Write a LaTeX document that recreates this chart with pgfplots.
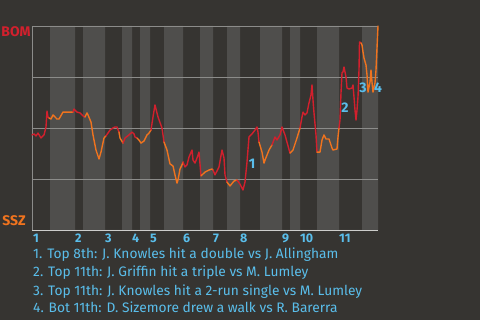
\documentclass[border=0pt]{standalone}
\usepackage{pgfplots}
\pgfplotsset{compat=1.18}
\usepackage{fontspec}
\setmainfont{Fira Sans}
\definecolor{bg}{RGB}{54,52,49}
\definecolor{band}{RGB}{79,78,76}
\definecolor{gridc}{RGB}{140,140,138}
\definecolor{botc}{RGB}{205,205,203}
\definecolor{wpred}{RGB}{210,32,45}
\definecolor{wporange}{RGB}{240,115,30}
\definecolor{lblue}{RGB}{90,190,235}
\tikzset{
  inn/.style={lblue, font=\bfseries\fontsize{12.5}{12.5}\selectfont, inner sep=0, anchor=base west, yshift=-12.5bp},
  evt/.style={lblue, font=\bfseries\fontsize{14}{14}\selectfont, inner sep=0},
  wp/.style={line width=1.4pt, line join=round, line cap=round}}
\begin{document}
\begin{tikzpicture}
\useasboundingbox (0,0) rectangle (480bp,320bp);
\fill[bg] (0,0) rectangle (480bp,320bp);
\begin{axis}[at={(32bp,90bp)}, anchor=south west, scale only axis,
  width=346bp, height=204bp, xmin=0, xmax=346, ymin=0, ymax=100,
  hide axis, clip=false]
% half-inning bands (bottom halves)
\addplot[ybar interval, fill=band, draw=none] coordinates {
 (18,100)(43,0)(51,100)(73,0)(90,100)(100,0)(108,100)(118,0)(132,100)(151,0)
 (168,100)(181,0)(195,100)(208,0)(228,100)(250,0)(258,100)(268,0)(285,100)(307,0)
 (330,100)(346,0)};
% grid lines
\addplot[gridc, line width=0.8pt] coordinates {(0,25)(346,25)};
\addplot[gridc, line width=0.8pt] coordinates {(0,50)(346,50)};
\addplot[gridc, line width=0.8pt] coordinates {(0,75)(346,75)};
\addplot[gridc, line width=0.8pt] coordinates {(0,100)(346,100)};
\addplot[gridc, line width=0.8pt] coordinates {(0,0)(0,100)};
\addplot[botc, line width=1pt] coordinates {(0,0)(346,0)};
% win probability (percent for BOM)
\addplot[wp, wpred] coordinates {(0,46.6)(2,47.1)(4,46.1)(6,47.5)(9,45.1)(12,46.6)(14,50.5)(15,58.3)(16,55.4)(17,54.9)};
\addplot[wp, wporange] coordinates {(17,54.9)(19,54.4)(21,56.4)(25,54.4)(27,54.4)(31,57.8)(41,57.8)};
\addplot[wp, wpred] coordinates {(41,57.8)(42,59.3)(45,57.8)(48,57.4)(51,55.9)(53,55.4)};
\addplot[wp, wporange] coordinates {(53,55.4)(55,57.4)(56,56.4)(59,52.9)(61,46.6)(64,39.2)(67,34.8)(69,38.2)(72,45.1)(74,46.1)};
\addplot[wp, wpred] coordinates {(74,46.1)(78,49.0)(81,50.0)(83,50.5)(85,50.5)(87,48.0)};
\addplot[wp, wporange] coordinates {(87,48.0)(88,45.1)(91,42.6)};
\addplot[wp, wpred] coordinates {(91,42.6)(93,45.1)(97,46.6)(100,48.0)(102,47.1)(103,45.6)(105,45.1)};
\addplot[wp, wporange] coordinates {(105,45.1)(107,44.1)(109,42.6)(112,43.6)(115,46.6)(117,47.5)(119,49.0)};
\addplot[wp, wpred] coordinates {(119,49.0)(121,55.4)(123,61.3)(126,55.4)(130,50.0)(132,43.1)};
\addplot[wp, wporange] coordinates {(132,43.1)(135,39.2)(138,32.4)(141,31.4)(143,27.0)(145,23.0)(146,24.5)(148,29.9)(150,31.9)(151,33.3)};
\addplot[wp, wpred] coordinates {(151,33.3)(153,30.9)(155,31.9)(157,35.8)(160,39.2)(161,34.3)(163,32.8)(165,35.3)(167,38.2)(169,26.5)};
\addplot[wp, wporange] coordinates {(169,26.5)(173,28.4)(177,29.4)(180,29.9)(181,29.4)};
\addplot[wp, wpred] coordinates {(181,29.4)(183,27.0)(187,30.9)(190,39.2)(192,35.3)(193,27.0)(195,23.5)};
\addplot[wp, wporange] coordinates {(195,23.5)(198,21.6)(202,24.0)(205,24.5)};
\addplot[wp, wpred] coordinates {(205,24.5)(208,22.5)(211,19.6)(213,23.5)(215,33.3)(217,45.6)(220,47.1)(223,49.0)(225,50.5)(226,48.0)(227,43.1)};
\addplot[wp, wporange] coordinates {(227,43.1)(230,38.2)(232,32.8)(233,34.3)(237,39.2)(240,41.7)};
\addplot[wp, wpred] coordinates {(240,41.7)(243,45.6)(245,44.1)(248,46.6)(250,50.5)(253,46.6)(258,37.7)};
\addplot[wp, wporange] coordinates {(258,37.7)(261,39.2)(265,45.1)(268,50.0)};
\addplot[wp, wpred] coordinates {(268,50.0)(270,55.4)(271,57.8)(273,56.4)(275,57.4)(277,62.3)(279,66.2)(280,71.1)(281,63.7)(282,57.4)(284,46.6)(285,38.2)};
\addplot[wp, wporange] coordinates {(285,38.2)(288,38.2)(290,44.1)(292,46.6)(294,44.6)(297,44.6)(300,40.2)(301,39.2)(305,39.7)(306,45.6)(307,50.0)};
\addplot[wp, wpred] coordinates {(307,50.0)(308,53.9)(309,67.2)(310,77.0)(311,77.5)(312,79.9)(314,75.0)(315,69.6)(317,69.1)(320,69.6)(321,71.1)(322,65.2)(323,58.8)(324,53.9)(325,58.8)(326,65.2)(327,78.4)(327.5,92.2)(329,91.7)};
\addplot[wp, wporange] coordinates {(329,91.7)(330,90.7)(331,87.3)(332,84.3)(334,80.9)(335,76.0)(336,67.6)(338,72.5)(339,78.4)(340,72.5)(341,67.6)(343,72.1)(344,78.4)(345,89.2)(346,100)};
% event markers
\node[evt] at (axis cs:220,32.4) {1};
\node[evt] at (axis cs:313,59.8) {2};
\node[evt] at (axis cs:331,69.6) {3};
\node[evt] at (axis cs:346,69.6) {4};
% inning labels
\node[inn] at (axis cs:1,0) {1};
\node[inn] at (axis cs:43,0) {2};
\node[inn] at (axis cs:73,0) {3};
\node[inn] at (axis cs:100,0) {4};
\node[inn] at (axis cs:118,0) {5};
\node[inn] at (axis cs:151,0) {6};
\node[inn] at (axis cs:181,0) {7};
\node[inn] at (axis cs:208,0) {8};
\node[inn] at (axis cs:250,0) {9};
\node[inn] at (axis cs:268,0) {10};
\node[inn] at (axis cs:307,0) {11};
\end{axis}
\node[wpred, font=\bfseries\fontsize{14}{14}\selectfont, inner sep=0] at (16bp,288bp) {BOM};
\node[wporange, font=\bfseries\fontsize{14}{14}\selectfont, inner sep=0] at (14bp,99bp) {SSZ};
\begin{scope}[every node/.style={lblue, font=\fontsize{13.8}{16}\selectfont, inner sep=0, anchor=base west}]
\node at (33bp,61bp) {1. Top 8th: J. Knowles hit a double vs J. Allingham};
\node at (33bp,43bp) {2. Top 11th: J. Griffin hit a triple vs M. Lumley};
\node at (33bp,25bp) {3. Top 11th: J. Knowles hit a 2-run single vs M. Lumley};
\node at (33bp,8bp) {4. Bot 11th: D. Sizemore drew a walk vs R. Barerra};
\end{scope}
\end{tikzpicture}
\end{document}
